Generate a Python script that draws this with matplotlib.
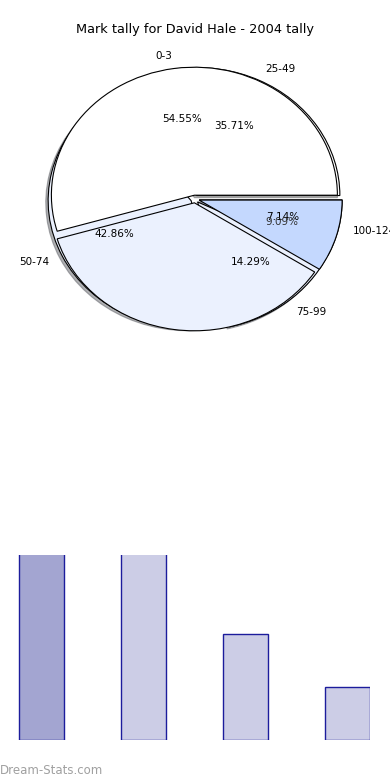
import matplotlib
matplotlib.use("Agg")
import matplotlib.pyplot as plt

# two tallies that end up drawn on top of each other in the original
first_labels = ["0-3", "", ""]
first_counts = [6, 4, 1]
second_labels = ["25-49", "50-74", "75-99", "100-124"]
second_counts = [5, 6, 2, 1]

bar_counts = [5, 6, 2, 1]

W, H = 390, 780
fig = plt.figure(figsize=(W / 100, H / 100), dpi=100)

# pie: centre (195,199) px, radii 143 x 128 px
lim = 1.35
rx, ry = 143, 128
cx, cy = 195, 199
aw, ah = 2 * lim * rx, 2 * lim * ry
ax = fig.add_axes([(cx - aw / 2) / W, (H - cy - ah / 2) / H, aw / W, ah / H])

light = "#ebf1fe"
blue = "#c4d8fe"
wp = dict(edgecolor="black", linewidth=0.8)

w2, t2, a2 = ax.pie(second_counts, labels=second_labels, autopct="%.2f%%",
                    colors=["white", light, light, blue],
                    explode=[0.03] * 4,
                    shadow=dict(ox=-0.012, oy=-0.012, shade=0.6),
                    startangle=0, labeldistance=1.1, pctdistance=0.6,
                    wedgeprops=wp, textprops=dict(fontsize=7.5))
w1, t1, a1 = ax.pie(first_counts, labels=first_labels, autopct="%.2f%%",
                    colors=["white", light, blue],
                    explode=[0.03] * 3, shadow=False, startangle=0,
                    labeldistance=1.1, pctdistance=0.6, wedgeprops=wp,
                    textprops=dict(fontsize=7.5))
# only the first slice of the first tally keeps its percentage shown
a1[1].set_visible(False)
a1[2].set_color("#333333")
for w in w1:
    w.set_zorder(3)
for t in list(t1) + list(t2) + list(a1) + list(a2):
    t.set_zorder(6)

ax.set_aspect("auto")
ax.set_xlim(-lim, lim)
ax.set_ylim(-lim, lim)
ax.axis("off")

fig.text(195 / W, 1 - 30 / H, "Mark tally for David Hale - 2004 tally",
         ha="center", va="center", fontsize=9.3)

# bars, clipped at the top of their axes
bx = fig.add_axes([0, 40 / H, 370 / W, 185 / H])
pos = list(range(len(bar_counts)))
cols = ["#a3a5d1"] + ["#cccde6"] * (len(bar_counts) - 1)
bx.bar(pos, bar_counts, width=0.45, color=cols, edgecolor="#1c1c9c",
       linewidth=1)
bx.set_xlim(-41.5 / 102, (370 - 41.5) / 102)
bx.set_ylim(0, 3.5)
bx.axis("off")

fig.text(0, 1 - 770 / H, "Dream-Stats.com", ha="left", va="center",
         fontsize=8.5, color="#a0a0a0")

fig.savefig("out.png", dpi=100)
